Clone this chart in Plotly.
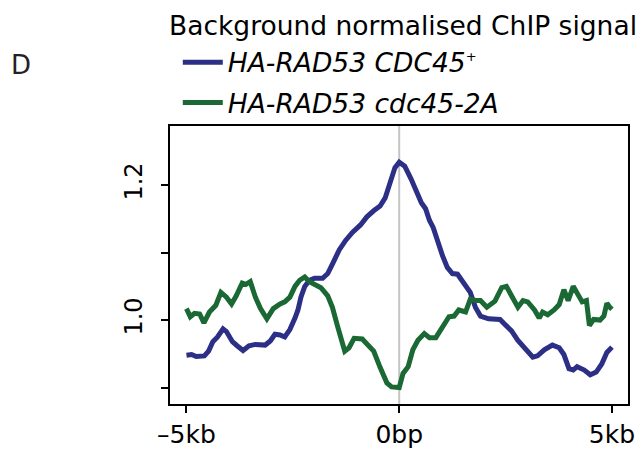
import plotly.graph_objects as go

# Position relative to the feature centre (bp) and normalised ChIP signal
pos_cdc45 = [-5000, -4880, -4770, -4580, -4480, -4380, -4270, -4140, -4060, -3920,
             -3810, -3670, -3530, -3380, -3150, -3030, -2920, -2800, -2690, -2570,
             -2450, -2380, -2310, -2220, -2110, -1990, -1800, -1680, -1570, -1410,
             -1260, -1100, -910, -760, -600, -450, -330, -220, -100, 0,
             130, 280, 400, 520, 620, 710, 800, 900, 1020, 1130,
             1250, 1370, 1480, 1670, 1790, 1910, 2100, 2370, 2480, 2640,
             2790, 2950, 3140, 3250, 3410, 3600, 3760, 3870, 3990, 4090,
             4180, 4350, 4490, 4630, 4760, 4880, 5000]
sig_cdc45 = [0.948, 0.949, 0.946, 0.947, 0.954, 0.968, 0.975, 0.987, 0.983, 0.968,
             0.962, 0.955, 0.962, 0.964, 0.963, 0.969, 0.979, 0.978, 0.975, 0.986,
             1.003, 1.015, 1.034, 1.050, 1.059, 1.062, 1.062, 1.069, 1.083, 1.104,
             1.118, 1.130, 1.141, 1.153, 1.162, 1.169, 1.181, 1.200, 1.226, 1.234,
             1.228, 1.209, 1.191, 1.174, 1.165, 1.148, 1.137, 1.116, 1.095, 1.078,
             1.069, 1.068, 1.057, 1.041, 1.019, 1.006, 1.002, 1.001, 0.994, 0.984,
             0.970, 0.959, 0.945, 0.947, 0.956, 0.963, 0.959, 0.949, 0.928, 0.926,
             0.931, 0.926, 0.919, 0.923, 0.935, 0.952, 0.960]

pos_cdc45_2a = [-5000, -4910, -4810, -4690, -4590, -4460, -4310, -4190, -4060, -3940,
                -3830, -3690, -3600, -3500, -3380, -3260, -3110, -2960, -2800, -2690,
                -2570, -2450, -2340, -2220, -2110, -1950, -1840, -1680, -1570, -1450,
                -1380, -1280, -1180, -1060, -870, -720, -600, -450, -290, -180,
                0, 90, 210, 320, 440, 590, 710, 860, 1020, 1170,
                1290, 1400, 1560, 1670, 1790, 1910, 2060, 2250, 2410, 2520,
                2640, 2790, 2910, 3020, 3180, 3290, 3370, 3490, 3640, 3760,
                3870, 3970, 4090, 4200, 4300, 4400, 4470, 4570, 4720, 4810,
                4880, 4950, 5000]
sig_cdc45_2a = [1.017, 1.005, 1.010, 1.009, 0.996, 1.012, 1.022, 1.041, 1.034, 1.024,
                1.036, 1.055, 1.053, 1.057, 1.034, 1.017, 1.002, 1.017, 1.024, 1.027,
                1.034, 1.050, 1.059, 1.064, 1.057, 1.052, 1.048, 1.036, 1.019, 0.991,
                0.973, 0.954, 0.959, 0.973, 0.972, 0.961, 0.954, 0.930, 0.907, 0.901,
                0.900, 0.921, 0.931, 0.956, 0.970, 0.980, 0.974, 0.974, 0.989, 1.005,
                1.006, 1.015, 1.012, 1.031, 1.029, 1.029, 1.019, 1.028, 1.048, 1.050,
                1.036, 1.019, 1.029, 1.027, 1.015, 1.003, 1.012, 1.008, 1.015, 1.023,
                1.045, 1.029, 1.050, 1.038, 1.027, 1.029, 0.992, 1.001, 1.000, 1.006,
                1.025, 1.019, 1.016]

x_tick_vals = [-5000, 0, 5000]
x_tick_text = ["–5kb", "0bp", "5kb"]
y_tick_vals = [1.0, 1.2]
y_tick_text = ["1.0", "1.2"]

FONT = "DejaVu Sans"
BLUE = "#2c2f86"
GREEN = "#1a6833"

fig = go.Figure()
fig.add_trace(go.Scatter(
    x=pos_cdc45, y=sig_cdc45, mode="lines",
    name="<i>HA-RAD53 CDC45<sup><span style='font-size:13px'>+</span></sup></i>",
    line=dict(color=BLUE, width=5),
    legendgroup="a",
))
fig.add_trace(go.Scatter(
    x=pos_cdc45_2a, y=sig_cdc45_2a, mode="lines",
    name="<i>HA-RAD53 cdc45-2A</i>",
    line=dict(color=GREEN, width=5),
    legendgroup="b",
))

# vertical marker at the centre position
fig.add_shape(type="line", x0=0, x1=0, xref="x", y0=0, y1=1, yref="paper",
              line=dict(color="#c4c4c4", width=2), layer="below")

# panel letter and legend heading
fig.add_annotation(text="D", xref="paper", yref="paper", x=-0.352, y=1.22,
                   xanchor="left", yanchor="middle", showarrow=False,
                   font=dict(family=FONT, size=26, color="#222222"))
fig.add_annotation(text="Background normalised ChIP signal",
                   xref="paper", yref="paper", x=-0.006, y=1.36,
                   xanchor="left", yanchor="middle", showarrow=False,
                   font=dict(family=FONT, size=26.5, color="black"))

fig.update_layout(
    width=641, height=455,
    margin=dict(l=170, r=6, t=126, b=36),
    paper_bgcolor="white", plot_bgcolor="white",
    font=dict(family=FONT, color="black"),
    showlegend=True,
    legend=dict(
        font=dict(family=FONT, size=26.5, color="black"),
        x=0.017, xanchor="left", y=1.315, yanchor="top",
        bgcolor="rgba(0,0,0,0)", borderwidth=0,
        tracegroupgap=3, itemwidth=40,
    ),
    xaxis=dict(
        range=[-5387, 5377], tickvals=x_tick_vals, ticktext=x_tick_text,
        ticks="outside", ticklen=7, tickwidth=1.5, tickcolor="black",
        showline=True, linecolor="black", linewidth=2, mirror=True,
        showgrid=False, zeroline=False,
        tickfont=dict(family=FONT, size=25, color="black"),
    ),
    yaxis=dict(
        range=[0.8757, 1.2876], tickvals=y_tick_vals, ticktext=y_tick_text,
        ticks="outside", ticklen=7, tickwidth=1.5, tickcolor="black",
        minor=dict(tick0=0.9, dtick=0.1, ticks="outside", ticklen=7,
                   tickwidth=1.5, tickcolor="black", showgrid=False),
        showline=True, linecolor="black", linewidth=2, mirror=True,
        showgrid=False, zeroline=False, tickangle=-90,
        ticklabelstandoff=9,
        tickfont=dict(family=FONT, size=24, color="black"),
    ),
)

fig.write_html("out.html")
